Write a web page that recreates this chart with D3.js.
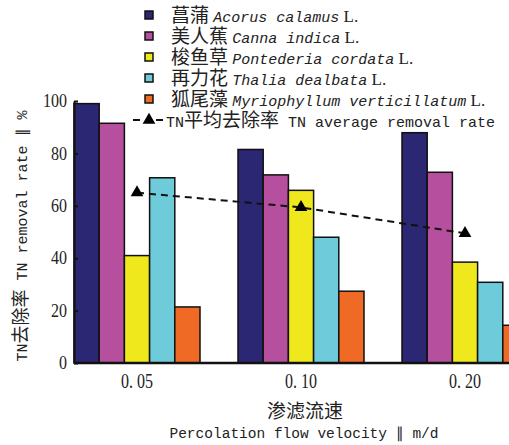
<!DOCTYPE html>
<html>
<head>
<meta charset="utf-8">
<script src="https://cdn.jsdelivr.net/npm/d3@7"></script>
<style>
  body { margin: 0; background: #fff; }
  svg { display: block; }
</style>
</head>
<body>
<div id="chart"></div>
<script>
// data
var velocities = ["0.05", "0.10", "0.20"];
var velocityLabels = ["0. 05", "0. 10", "0. 20"];
var speciesCn = ["菖蒲", "美人蕉", "梭鱼草", "再力花", "狐尾藻"];
var speciesLatin = ["Acorus calamus", "Canna indica", "Pontederia cordata", "Thalia dealbata", "Myriophyllum verticillatum"];
var colors = ["#2b2772", "#b54f9e", "#eee81c", "#6ecbda", "#ef6a25"];

var acorus      = [99.0, 81.5, 87.9];
var canna       = [91.5, 71.8, 72.8];
var pontederia  = [41.0, 65.9, 38.5];
var thalia      = [70.7, 48.0, 30.8];
var myriophyll  = [21.4, 27.4, 14.4];
var average     = [65.0, 59.4, 49.5];

var yTicks = [0, 20, 40, 60, 80, 100];

var seriesValues = [acorus, canna, pontederia, thalia, myriophyll];

//
// setup
//
var width = 509, height = 445;
var plotLeft = 74, plotBottom = 363, plotTop = 101;

var svg = d3.select("#chart").append("svg")
    .attr("width", width)
    .attr("height", height);

var x0 = d3.scaleBand().domain(velocities).range([plotLeft, plotLeft + 3 * 164]);
var x1 = d3.scaleBand().domain(d3.range(speciesCn.length)).range([0, 126]);
var y = d3.scaleLinear().domain([0, 100]).range([plotBottom, plotTop]);

//
// bars
//
var rows = [];
velocities.forEach(function(v, i) {
  seriesValues.forEach(function(s, j) {
    rows.push({ cat: v, k: j, value: s[i] });
  });
});

svg.append("g").selectAll("rect")
  .data(rows)
  .enter()
  .append("rect")
  .attr("x", function(d) { return x0(d.cat) + x1(d.k); })
  .attr("y", function(d) { return y(d.value); })
  .attr("width", x1.bandwidth())
  .attr("height", function(d) { return plotBottom - y(d.value); })
  .attr("fill", function(d) { return colors[d.k]; })
  .attr("stroke", "#111")
  .attr("stroke-width", 1.5);

//
// average line
//
var cx = function(v) { return x0(v) + 63; };
var tri = d3.symbol().type(d3.symbolTriangle).size(70);

svg.append("path")
  .datum(average)
  .attr("fill", "none")
  .attr("stroke", "#111")
  .attr("stroke-width", 2)
  .attr("stroke-dasharray", "7,5")
  .attr("d", d3.line()
    .x(function(d, i) { return cx(velocities[i]); })
    .y(function(d) { return y(d); }));

svg.append("g").selectAll("path")
  .data(average)
  .enter()
  .append("path")
  .attr("d", tri)
  .attr("fill", "#000")
  .attr("transform", function(d, i) { return "translate(" + cx(velocities[i]) + "," + y(d) + ")"; });

//
// axes
//
var yAxis = svg.append("g")
  .attr("transform", "translate(" + plotLeft + ",0)")
  .call(d3.axisLeft(y).tickValues(yTicks).tickSizeInner(-4).tickSizeOuter(0).tickPadding(8));
yAxis.select(".domain").attr("stroke", "#111").attr("stroke-width", 2);
yAxis.selectAll(".tick line").attr("stroke", "#111").attr("stroke-width", 2);
yAxis.selectAll(".tick text")
  .attr("font-family", "Liberation Serif")
  .attr("font-size", 18)
  .attr("fill", "#222")
  .attr("textLength", function(d) { return String(d).length * 8; })
  .attr("lengthAdjust", "spacingAndGlyphs")
  .attr("x", function(d) { return -7 - String(d).length * 8; })
  .attr("text-anchor", "start");

svg.append("line")
  .attr("x1", plotLeft).attr("x2", width)
  .attr("y1", plotBottom).attr("y2", plotBottom)
  .attr("stroke", "#111")
  .attr("stroke-width", 2.5);

svg.append("g").selectAll("text")
  .data(velocities)
  .enter()
  .append("text")
  .attr("x", function(d) { return cx(d) - 16; })
  .attr("y", 388)
  .attr("font-family", "Liberation Serif")
  .attr("font-size", 21)
  .attr("fill", "#222")
  .attr("textLength", 32)
  .attr("lengthAdjust", "spacingAndGlyphs")
  .text(function(d, i) { return velocityLabels[i]; });

// axis titles
svg.append("text")
  .attr("x", 305).attr("y", 418)
  .attr("text-anchor", "middle")
  .attr("font-family", "Noto Sans CJK SC")
  .attr("font-size", 19)
  .attr("fill", "#222")
  .text("渗滤流速");

svg.append("text")
  .attr("x", 304).attr("y", 438)
  .attr("text-anchor", "middle")
  .attr("font-family", "Liberation Mono")
  .attr("font-size", 14.5)
  .attr("fill", "#222")
  .text("Percolation flow velocity ∥ m/d");

var yTitle = svg.append("text")
  .attr("transform", "translate(27,236) rotate(-90)")
  .attr("text-anchor", "middle")
  .attr("font-family", "Liberation Mono")
  .attr("font-size", 15)
  .attr("fill", "#222");
yTitle.append("tspan").text("TN");
yTitle.append("tspan").attr("font-family", "Noto Sans CJK SC").attr("font-size", 18).text("去除率");
yTitle.append("tspan").text(" TN removal rate ∥ %");

//
// legend
//
var legend = svg.append("g");
speciesCn.forEach(function(name, i) {
  var ly = 15 + i * 21;
  legend.append("rect")
    .attr("x", 145).attr("y", ly - 4)
    .attr("width", 8).attr("height", 8)
    .attr("fill", colors[i])
    .attr("stroke", "#111")
    .attr("stroke-width", 1.5);
  var t = legend.append("text")
    .attr("x", 171).attr("y", ly + 7)
    .attr("fill", "#222");
  t.append("tspan").attr("font-family", "Noto Sans CJK SC").attr("font-size", 19).text(name + " ");
  t.append("tspan").attr("font-family", "Liberation Mono").attr("font-style", "italic").attr("font-size", 15).text(speciesLatin[i]);
  t.append("tspan").attr("font-family", "Liberation Serif").attr("font-size", 17).text(" L.");
});

var ly6 = 15 + 5 * 21;
legend.append("line")
  .attr("x1", 133).attr("x2", 164)
  .attr("y1", ly6).attr("y2", ly6)
  .attr("stroke", "#111")
  .attr("stroke-width", 2)
  .attr("stroke-dasharray", "7,16");
legend.append("path")
  .attr("d", tri)
  .attr("fill", "#000")
  .attr("transform", "translate(149," + ly6 + ")");
var t6 = legend.append("text")
  .attr("x", 166).attr("y", ly6 + 7)
  .attr("fill", "#222");
t6.append("tspan").attr("font-family", "Liberation Mono").attr("font-size", 15).text("TN");
t6.append("tspan").attr("font-family", "Noto Sans CJK SC").attr("font-size", 19).text("平均去除率");
t6.append("tspan").attr("font-family", "Liberation Mono").attr("font-size", 15).text(" TN average removal rate");
</script>
</body>
</html>
